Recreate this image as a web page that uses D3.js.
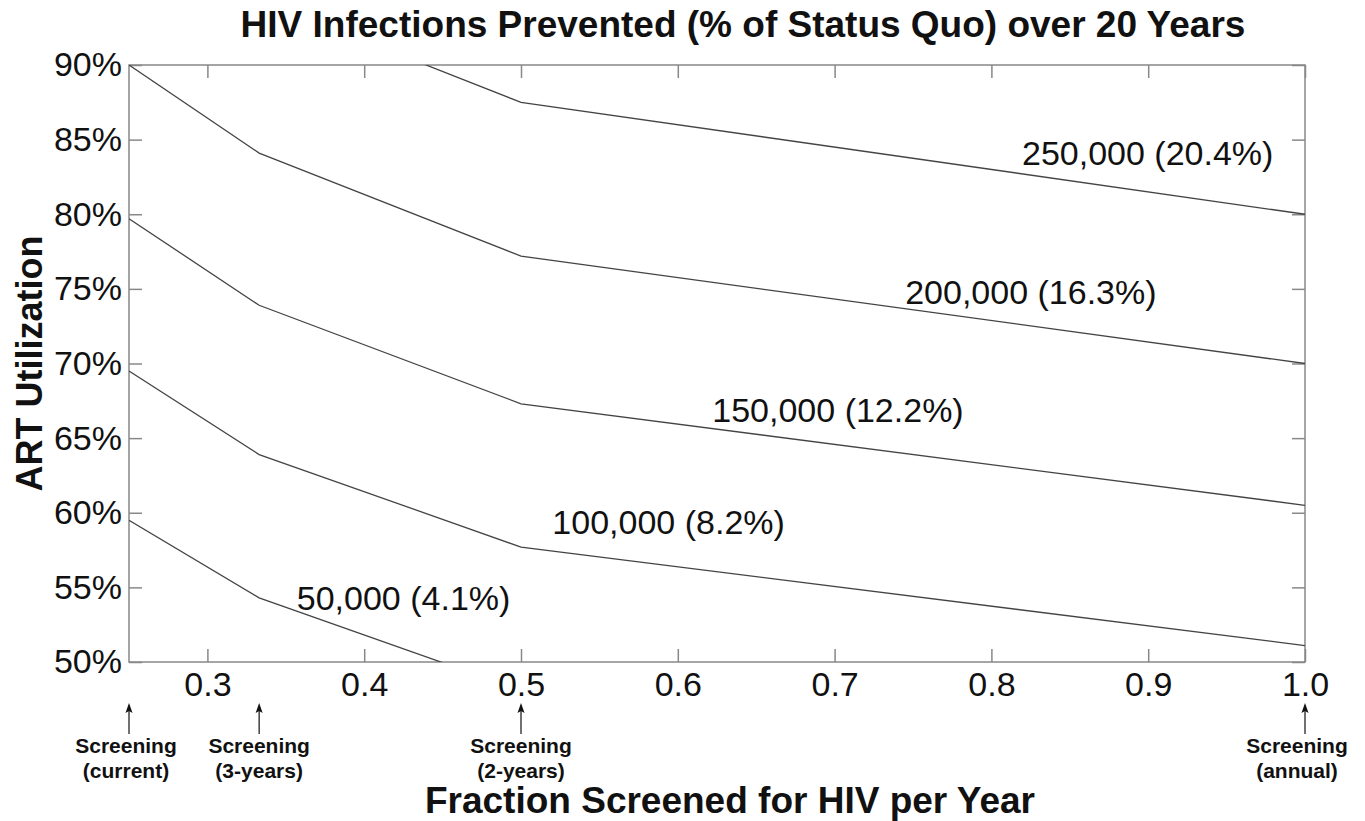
<!DOCTYPE html>
<html>
<head>
<meta charset="utf-8">
<script src="https://cdn.jsdelivr.net/npm/d3@7"></script>
<style>
  body { margin: 0; background: #fff; }
  svg text { font-family: "Liberation Sans", Arial, sans-serif; fill: #111; }
</style>
</head>
<body>
<div id="chartContainer"></div>
<script>
// fraction screened per year (x) and ART utilization % (y) along each contour
const contourNames = ["50,000 (4.1%)", "100,000 (8.2%)", "150,000 (12.2%)", "200,000 (16.3%)", "250,000 (20.4%)"];
const contourX = [
  [0.25, 0.333, 0.5],
  [0.25, 0.333, 0.5, 1.0],
  [0.25, 0.333, 0.5, 1.0],
  [0.25, 0.333, 0.5, 1.0],
  [0.333, 0.5, 1.0]
];
const contourY = [
  [59.5, 54.3, 48.1],
  [69.5, 63.9, 57.7, 51.1],
  [79.7, 73.9, 67.3, 60.5],
  [90.0, 84.1, 77.2, 70.0],
  [94.4, 87.5, 80.0]
];
// where each contour's label sits (data units, text start / baseline)
const labelX = [0.357, 0.520, 0.622, 0.745, 0.8195];
const labelY = [53.5, 58.6, 66.1, 74.0, 83.3];

const xTicks = [0.3, 0.4, 0.5, 0.6, 0.7, 0.8, 0.9, 1.0];
const yTicks = [50, 55, 60, 65, 70, 75, 80, 85, 90];

const screeningX = [0.25, 0.333, 0.5, 1.0];
const screeningText = ["(current)", "(3-years)", "(2-years)", "(annual)"];

const width = 1365, height = 821;
const margin = { top: 65, right: 60, bottom: 159, left: 129 };

const svg = d3.select("#chartContainer").append("svg").attr("width", width).attr("height", height);

const x = d3.scaleLinear().domain([0.25, 1.0]).range([margin.left, width - margin.right]);
const y = d3.scaleLinear().domain([50, 90]).range([height - margin.bottom, margin.top]);

svg.append("defs").append("clipPath").attr("id", "plotClip")
  .append("rect")
  .attr("x", x(0.25)).attr("y", y(90))
  .attr("width", x(1.0) - x(0.25)).attr("height", y(50) - y(90));

const tick = 13;
const axisColor = "#888";

function styleAxis(g) {
  g.select(".domain").remove();
  g.selectAll(".tick line").attr("stroke", axisColor).attr("stroke-width", 1.5);
  g.selectAll(".tick text").attr("font-size", 34).attr("fill", "#111");
}

svg.append("g").attr("transform", `translate(0,${y(50)})`)
  .call(d3.axisBottom(x).tickValues(xTicks).tickSizeInner(-tick).tickSizeOuter(0).tickPadding(10).tickFormat(d3.format(".1f")))
  .call(styleAxis);

svg.append("g").attr("transform", `translate(0,${y(90)})`)
  .call(d3.axisTop(x).tickValues(xTicks).tickSizeInner(-tick).tickSizeOuter(0).tickFormat(""))
  .call(styleAxis);

svg.append("g").attr("transform", `translate(${x(0.25)},0)`)
  .call(d3.axisLeft(y).tickValues(yTicks).tickSizeInner(-tick).tickSizeOuter(0).tickPadding(7).tickFormat((d) => d + "%"))
  .call(styleAxis);

svg.append("g").attr("transform", `translate(${x(1.0)},0)`)
  .call(d3.axisRight(y).tickValues(yTicks).tickSizeInner(-tick).tickSizeOuter(0).tickFormat(""))
  .call(styleAxis);

// frame
svg.append("rect")
  .attr("x", x(0.25)).attr("y", y(90))
  .attr("width", x(1.0) - x(0.25)).attr("height", y(50) - y(90))
  .attr("fill", "none").attr("stroke", axisColor).attr("stroke-width", 1.5);

// contours
const line = d3.line().x((d) => x(d[0])).y((d) => y(d[1]));
const contours = contourNames.map((name, i) => ({
  name: name,
  points: contourX[i].map((v, j) => [v, contourY[i][j]]),
  lx: labelX[i],
  ly: labelY[i]
}));

svg.append("g").attr("clip-path", "url(#plotClip)")
  .selectAll("path")
  .data(contours)
  .enter()
  .append("path")
  .attr("d", (d) => line(d.points))
  .attr("fill", "none")
  .attr("stroke", "#444")
  .attr("stroke-width", 1.3);

svg.append("g")
  .selectAll("text")
  .data(contours)
  .enter()
  .append("text")
  .attr("x", (d) => x(d.lx))
  .attr("y", (d) => y(d.ly))
  .attr("font-size", 34)
  .text((d) => d.name);

// title and axis titles
svg.append("text")
  .attr("x", 743).attr("y", 37)
  .attr("text-anchor", "middle")
  .attr("font-size", 37).attr("font-weight", "bold")
  .text("HIV Infections Prevented (% of Status Quo) over 20 Years");

svg.append("text")
  .attr("transform", `translate(42,${(y(50) + y(90)) / 2}) rotate(-90)`)
  .attr("text-anchor", "middle")
  .attr("font-size", 36).attr("font-weight", "bold")
  .text("ART Utilization");

svg.append("text")
  .attr("x", 730).attr("y", 813)
  .attr("text-anchor", "middle")
  .attr("font-size", 37).attr("font-weight", "bold")
  .text("Fraction Screened for HIV per Year");

// screening annotations under the axis
const notes = svg.append("g")
  .selectAll("g")
  .data(screeningX)
  .enter()
  .append("g")
  .attr("transform", (d) => `translate(${x(d)},0)`);

notes.append("line")
  .attr("x1", 0).attr("x2", 0)
  .attr("y1", 734).attr("y2", 710)
  .attr("stroke", "#111").attr("stroke-width", 1.2);

notes.append("path")
  .attr("d", "M0,703 L-3.5,713 L0,711 L3.5,713 Z")
  .attr("fill", "#111");

notes.append("text")
  .attr("x", (d, i) => (i === 3 ? -8 : i === 0 ? -3 : 0))
  .attr("y", 753)
  .attr("text-anchor", "middle")
  .attr("font-size", 21).attr("font-weight", "bold")
  .text("Screening");

notes.append("text")
  .attr("x", (d, i) => (i === 3 ? -8 : i === 0 ? -3 : 0))
  .attr("y", 778)
  .attr("text-anchor", "middle")
  .attr("font-size", 21).attr("font-weight", "bold")
  .text((d, i) => screeningText[i]);
</script>
</body>
</html>
